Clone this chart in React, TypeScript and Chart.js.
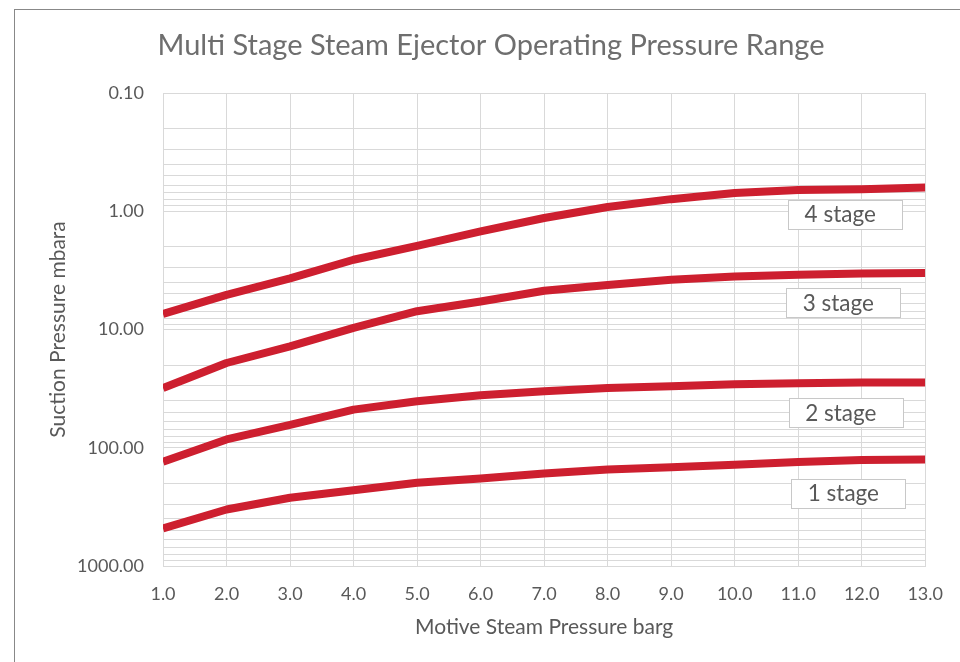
import React, { useEffect, useRef } from 'react';
import { Chart, registerables } from 'chart.js';

Chart.register(...registerables);

const chartTitle = 'Multi Stage Steam Ejector Operating Pressure Range';
const xAxisTitle = 'Motive Steam Pressure barg';
const yAxisTitle = 'Suction Pressure mbara';

const motivePressure = [1, 2, 3, 4, 5, 6, 7, 8, 9, 10, 11, 12, 13];
const stage4 = [7.4, 5.1, 3.7, 2.57, 1.96, 1.48, 1.14, 0.92, 0.79, 0.7, 0.66, 0.65, 0.63];
const stage3 = [31.2, 19.2, 13.9, 9.7, 7.0, 5.8, 4.7, 4.2, 3.8, 3.56, 3.45, 3.36, 3.33];
const stage2 = [131, 85, 64, 47.6, 40.5, 36, 33.3, 31.2, 30.2, 29.1, 28.5, 28.0, 28.0];
const stage1 = [481, 333, 265, 229, 198, 182, 165, 153, 146, 139, 132, 127, 126];

const seriesNames = ['4 stage', '3 stage', '2 stage', '1 stage'];
const labelX = [11.74, 11.71, 11.75, 11.79];
const labelY = [1.06, 5.94, 50.4, 242];

const yTickValues = [0.1, 1, 10, 100, 1000];
const yTickLabels = ['0.10', '1.00', '10.00', '100.00', '1000.00'];
const xTickLabels = ['1.0', '2.0', '3.0', '4.0', '5.0', '6.0', '7.0', '8.0', '9.0', '10.0', '11.0', '12.0', '13.0'];

const FONT = 'Lato';
const TEXT = '#595959';
const GRID = '#d9d9d9';
const RED = '#cd1f2f';

const titlePlugin = {
  id: 'customTitle',
  afterDraw(chart: any) {
    const { ctx } = chart;
    ctx.save();
    ctx.font = `29px ${FONT}`;
    ctx.fillStyle = '#6e6e6e';
    ctx.textAlign = 'center';
    ctx.textBaseline = 'middle';
    ctx.fillText(chartTitle, 491, 46);
    ctx.restore();
  },
};

const stageLabelPlugin = {
  id: 'stageLabels',
  afterDatasetsDraw(chart: any) {
    const { ctx } = chart;
    const xs = chart.scales.x;
    const ys = chart.scales.y;
    ctx.save();
    ctx.font = `22.5px ${FONT}`;
    seriesNames.forEach((name, i) => {
      const cx = xs.getPixelForValue(labelX[i]);
      const cy = ys.getPixelForValue(labelY[i]);
      const w = 114;
      const h = 29;
      const left = Math.round(cx - w / 2) + 0.5;
      const top = Math.round(cy - h / 2) + 0.5;
      ctx.fillStyle = '#ffffff';
      ctx.fillRect(left, top, w, h);
      ctx.strokeStyle = '#c8c8c8';
      ctx.lineWidth = 1;
      ctx.strokeRect(left, top, w, h);
      ctx.fillStyle = TEXT;
      ctx.textAlign = 'center';
      ctx.textBaseline = 'middle';
      ctx.fillText(name, cx - 5, cy + 1);
    });
    ctx.restore();
  },
};

export default function App() {
  const ref = useRef<HTMLCanvasElement | null>(null);

  useEffect(() => {
    if (!ref.current) return;
    const mk = (label: string, data: number[]) => ({
      label,
      data: motivePressure.map((x, i) => ({ x, y: data[i] })),
      borderColor: RED,
      backgroundColor: RED,
      borderWidth: 8,
      pointRadius: 0,
      tension: 0,
      borderCapStyle: 'butt' as const,
      borderJoinStyle: 'round' as const,
      fill: false,
    });
    const chart = new Chart(ref.current, {
      type: 'line',
      data: {
        datasets: [
          mk(seriesNames[0], stage4),
          mk(seriesNames[1], stage3),
          mk(seriesNames[2], stage2),
          mk(seriesNames[3], stage1),
        ],
      },
      options: {
        animation: false,
        responsive: false,
        devicePixelRatio: 1,
        layout: { padding: { top: 93, right: 34, left: 0, bottom: 0 } },
        plugins: {
          legend: { display: false },
          tooltip: { enabled: false },
          title: { display: false },
        },
        scales: {
          x: {
            type: 'linear',
            min: 1,
            max: 13,
            afterBuildTicks: (scale: any) => {
              scale.ticks = motivePressure.map((v) => ({ value: v }));
            },
            afterFit: (scale: any) => {
              scale.height = 96;
            },
            ticks: {
              autoSkip: false,
              maxRotation: 0,
              padding: 17,
              color: TEXT,
              font: { family: FONT, size: 18 },
              callback: (v: any) => {
                const i = motivePressure.indexOf(Number(v));
                return i >= 0 ? xTickLabels[i] : '';
              },
            },
            grid: { color: GRID, lineWidth: 1, drawTicks: false },
            border: { color: GRID },
            title: {
              display: true,
              text: xAxisTitle,
              color: TEXT,
              font: { family: FONT, size: 21 },
              padding: { top: 0, bottom: 22.5 },
            },
          },
          y: {
            type: 'logarithmic',
            reverse: true,
            min: 0.1,
            max: 1000,
            afterBuildTicks: (scale: any) => {
              const t: { value: number }[] = [];
              for (let d = 0; d < yTickValues.length - 1; d++) {
                for (let m = 1; m <= 9; m++) t.push({ value: yTickValues[d] * m });
              }
              t.push({ value: yTickValues[yTickValues.length - 1] });
              scale.ticks = t;
            },
            afterFit: (scale: any) => {
              scale.width = 163;
            },
            ticks: {
              autoSkip: false,
              padding: 19,
              color: TEXT,
              font: { family: FONT, size: 18 },
              callback: (v: any) => {
                const n = Number(v);
                const i = yTickValues.findIndex((t) => Math.abs(t - n) / t < 1e-9);
                return i >= 0 ? yTickLabels[i] : '';
              },
            },
            grid: { color: GRID, lineWidth: 1, drawTicks: false },
            border: { color: GRID },
            title: {
              display: true,
              text: yAxisTitle,
              color: TEXT,
              font: { family: FONT, size: 21 },
              padding: { top: 45.5, bottom: 0 },
            },
          },
        },
      },
      plugins: [stageLabelPlugin, titlePlugin],
    });
    return () => chart.destroy();
  }, []);

  return (
    <div style={{ position: 'absolute', left: 0, top: 0, width: 960, height: 662, background: '#fff', overflow: 'hidden' }}>
      <canvas ref={ref} width={960} height={662} style={{ position: 'absolute', left: 0, top: 0 }} />
      <div
        style={{
          position: 'absolute',
          left: 14,
          top: 9,
          width: 960,
          height: 700,
          border: '1px solid #888888',
          pointerEvents: 'none',
        }}
      />
    </div>
  );
}
